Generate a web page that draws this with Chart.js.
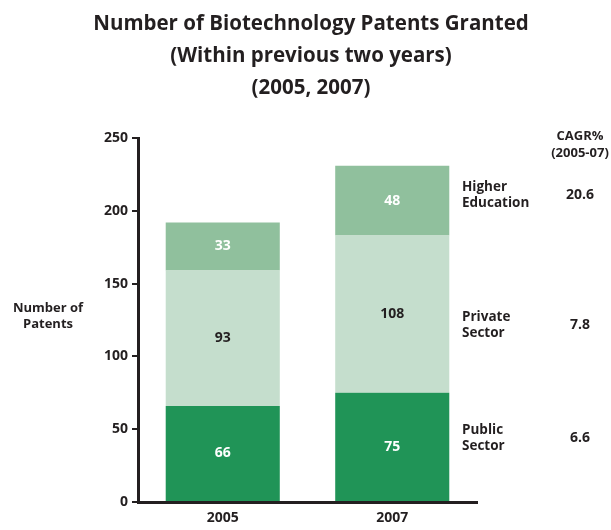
<!DOCTYPE html>
<html>
<head>
<meta charset="utf-8">
<script src="https://cdn.jsdelivr.net/npm/chart.js@4/dist/chart.umd.min.js"></script>
<style>
  html, body { margin: 0; padding: 0; background: #fff; }
  #wrap { width: 611px; height: 530px; position: relative; }
</style>
</head>
<body>
<div id="wrap"><canvas id="c" width="611" height="530"></canvas></div>
<script>
const categories = ['2005', '2007'];
const seriesNames = ['Public Sector', 'Private Sector', 'Higher Education'];
const publicSector = [66, 75];
const privateSector = [93, 108];
const higherEducation = [33, 48];
const cagr = ['6.6', '7.8', '20.6'];
const yTicks = [0, 50, 100, 150, 200, 250];
const titleLines = ['Number of Biotechnology Patents Granted', '(Within previous two years)', '(2005, 2007)'];
const yTitleLines = ['Number of', 'Patents'];
const cagrHeader = ['CAGR%', '(2005-07)'];
const seriesLabelLines = [['Public', 'Sector'], ['Private', 'Sector'], ['Higher', 'Education']];

const FONT = '"Open Sans", "Noto Sans", sans-serif';
const DARK = '#231f20';
const colors = ['#209457', '#c5decd', '#90c09d'];
const labelColors = ['#ffffff', DARK, '#ffffff'];
// annotation layout (pixels): centre y of each side label / CAGR value
const sideLabelY = [438, 325, 195];

const overlay = {
  id: 'overlay',
  afterDatasetsDraw(chart) {
    const ctx = chart.ctx;
    ctx.save();
    // value labels inside bars
    chart.data.datasets.forEach((ds, di) => {
      const meta = chart.getDatasetMeta(di);
      meta.data.forEach((bar, i) => {
        const p = bar.getCenterPoint();
        ctx.font = 'bold 14px ' + FONT;
        ctx.fillStyle = labelColors[di];
        ctx.textAlign = 'center';
        ctx.textBaseline = 'middle';
        ctx.fillText(String(ds.data[i]), p.x, p.y);
      });
    });
    // title
    ctx.fillStyle = DARK;
    ctx.textAlign = 'center';
    ctx.textBaseline = 'middle';
    ctx.font = 'bold 20.5px ' + FONT;
    titleLines.forEach((t, i) => ctx.fillText(t, 311, 24 + i * 32));
    // y axis title
    ctx.font = 'bold 13px ' + FONT;
    yTitleLines.forEach((t, i) => ctx.fillText(t, 48, 308 + i * 16));
    // CAGR header
    cagrHeader.forEach((t, i) => ctx.fillText(t, 580, 136 + i * 17));
    // series labels and CAGR values
    sideLabelY.forEach((py, si) => {
      ctx.font = 'bold 13.5px ' + FONT;
      ctx.textAlign = 'left';
      seriesLabelLines[si].forEach((t, li) => ctx.fillText(t, 462, py - 8 + li * 16));
      ctx.font = 'bold 14px ' + FONT;
      ctx.textAlign = 'center';
      ctx.fillText(cagr[si], 580, py);
    });
    ctx.restore();
  }
};

const datasets = [publicSector, privateSector, higherEducation].map((d, i) => ({
  label: seriesNames[i],
  data: d,
  backgroundColor: colors[i],
  borderWidth: 0,
  barPercentage: 0.673,
  categoryPercentage: 1.0
}));

new Chart(document.getElementById('c'), {
  type: 'bar',
  data: { labels: categories, datasets },
  options: {
    responsive: false,
    animation: false,
    devicePixelRatio: 1,
    layout: { padding: { top: 138, right: 134, bottom: 0, left: 0 } },
    plugins: { legend: { display: false }, title: { display: false }, tooltip: { enabled: false } },
    scales: {
      x: {
        stacked: true,
        grid: { display: false, drawTicks: false },
        border: { display: true, width: 3, color: DARK },
        ticks: { color: DARK, font: { family: FONT, size: 14, weight: 'bold' }, padding: 8 },
        afterFit(s) { s.height = 28; }
      },
      y: {
        stacked: true,
        min: 0,
        max: 250,
        afterBuildTicks(s) { s.ticks = yTicks.map(v => ({ value: v })); },
        grid: { drawOnChartArea: false, drawTicks: true, tickLength: 6, color: DARK, lineWidth: 2 },
        border: { display: true, width: 3, color: DARK },
        ticks: { color: DARK, font: { family: FONT, size: 14, weight: 'bold' }, padding: 4 },
        afterFit(s) { s.width = 138; }
      }
    }
  },
  plugins: [overlay]
});
</script>
</body>
</html>
